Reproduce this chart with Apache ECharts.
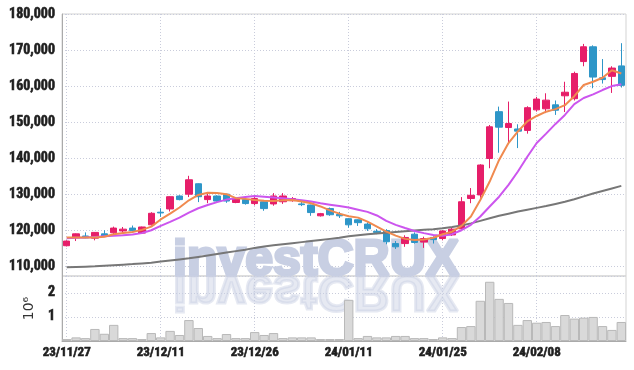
<!DOCTYPE html>
<html>
<head>
<meta charset="utf-8">
<script src="https://cdn.jsdelivr.net/npm/echarts@6/dist/echarts.min.js"></script>
<style>
html, body { margin: 0; padding: 0; background: #fff; }
#chart { width: 634px; height: 370px; }
</style>
</head>
<body>
<div id="chart"></div>
<script>
// trading days
var dates = [
	"23/11/27", "23/11/28", "23/11/29", "23/11/30", "23/12/01", "23/12/04", "23/12/05", "23/12/06", "23/12/07", "23/12/08",
	"23/12/11", "23/12/12", "23/12/13", "23/12/14", "23/12/15", "23/12/18", "23/12/19", "23/12/20", "23/12/21", "23/12/22",
	"23/12/26", "23/12/27", "23/12/28", "24/01/02", "24/01/03", "24/01/04", "24/01/05", "24/01/08", "24/01/09", "24/01/10",
	"24/01/11", "24/01/12", "24/01/15", "24/01/16", "24/01/17", "24/01/18", "24/01/19", "24/01/22", "24/01/23", "24/01/24",
	"24/01/25", "24/01/26", "24/01/29", "24/01/30", "24/01/31", "24/02/01", "24/02/02", "24/02/05", "24/02/06", "24/02/07",
	"24/02/08", "24/02/13", "24/02/14", "24/02/15", "24/02/16", "24/02/19", "24/02/20", "24/02/21", "24/02/22", "24/02/23"
]
var opens = [
	115700, 117900, 118400, 117800, 119000, 119300, 119800, 120600, 119200, 121500,
	125000, 125900, 129500, 130000, 132900, 128500, 129500, 130000, 127700, 128500,
	127400, 127900, 127300, 127900, 128200, 127300, 127000, 124000, 126000, 124400,
	123200, 122900, 121700, 119700, 119900, 116300, 116300, 118900, 116700, 118000,
	117700, 118700, 120400, 128800, 129800, 139900, 152900, 148500, 148100, 147700,
	153400, 153700, 154800, 157300, 156500, 166800, 170900, 162300, 162700, 165600
]
var closes = [
	117000, 119000, 117900, 119400, 118400, 120600, 120300, 119900, 120900, 124700,
	124800, 129300, 128500, 134000, 129300, 129500, 128100, 128100, 128800, 127400,
	128800, 126000, 129500, 129500, 128800, 127100, 124900, 124600, 124300, 124000,
	121500, 122100, 120400, 119400, 116800, 115400, 118000, 116600, 117700, 117400,
	119800, 120300, 127900, 129700, 138100, 148700, 148600, 149600, 147500, 154000,
	156400, 156100, 153300, 158300, 163500, 170900, 162500, 161800, 165000, 160200
]
var lows = [
	115500, 117000, 117800, 117200, 118200, 118600, 118900, 119700, 119000, 121300,
	123700, 125200, 128300, 129200, 127800, 127500, 127900, 127600, 127500, 127100,
	126900, 125400, 126800, 127300, 127900, 126700, 124000, 123800, 124000, 123400,
	120700, 121200, 119800, 118900, 116100, 114800, 115400, 116300, 115100, 116300,
	117200, 118400, 120200, 127500, 129000, 137200, 141500, 144200, 142800, 146800,
	152900, 152500, 152000, 152800, 156000, 165500, 159400, 160700, 158100, 159600
]
var highs = [
	117200, 119100, 119400, 119500, 120000, 121000, 120900, 121300, 121000, 125000,
	126100, 129400, 129700, 135100, 133000, 130300, 129700, 130100, 129000, 128600,
	129300, 128000, 130300, 130300, 129200, 127900, 127100, 124800, 126300, 125100,
	123300, 123000, 122200, 120300, 120300, 117000, 118600, 119400, 118200, 118300,
	120000, 120800, 129200, 131700, 138300, 149200, 154300, 155700, 149400, 154400,
	157000, 158000, 156000, 161200, 164000, 171700, 171300, 167500, 165500, 171900
]
// moving averages
var ma5 = [
	117950, 118000, 117950, 118000, 118200, 118900, 119200, 119500, 120100, 121000,
	123000, 124600, 126300, 128300, 129800, 130400, 130300, 130000, 128900, 128700,
	128400, 128200, 128100, 128300, 128400, 128000, 127500, 126600, 125500, 124600,
	123900, 123500, 122400, 121000, 119600, 118500, 117600, 117300, 117400, 117900,
	118900, 119600, 121200, 123800, 128400, 133500, 139500, 144200, 147400, 150200,
	151700, 152900, 153600, 154700, 157200, 160300, 161200, 162300, 164400, 163500
]
var ma20 = [
	117800, 117900, 118000, 118150, 118300, 118450, 118600, 118800, 119200, 120000,
	121200, 122300, 123500, 124900, 126100, 127000, 127800, 128500, 128900, 129200,
	129500, 129300, 129100, 128900, 128600, 128300, 128000, 127500, 127100, 126700,
	126300, 125700, 125100, 124100, 122600, 121500, 120600, 119800, 119200, 118700,
	118500, 118900, 120000, 121500, 123800, 126600, 129300, 132600, 136300, 140400,
	144200, 146800, 149500, 152000, 155000, 156700, 157700, 158900, 160000, 160500
]
var ma120 = [
	109700, 109800, 109900, 110000, 110150, 110300, 110450, 110600, 110800, 111000,
	111300, 111600, 111900, 112200, 112600, 113000, 113400, 113800, 114200, 114600,
	115100, 115500, 115800, 116100, 116400, 116700, 117000, 117300, 117600, 117900,
	118300, 118600, 118900, 119100, 119300, 119500, 119700, 119900, 120100, 120300,
	120550, 120900, 121300, 121900, 122600, 123300, 124000, 124600, 125200, 125700,
	126200, 126700, 127300, 127900, 128600, 129400, 130200, 130900, 131600, 132300
]
// volume, millions of shares
var volumes = [
	0.08, 0.15, 0.12, 0.50, 0.30, 0.67, 0.12, 0.12, 0.08, 0.33,
	0.15, 0.42, 0.25, 0.87, 0.54, 0.21, 0.12, 0.29, 0.12, 0.12,
	0.37, 0.25, 0.33, 0.12, 0.15, 0.15, 0.15, 0.08, 0.08, 0.08,
	1.71, 0.12, 0.21, 0.15, 0.15, 0.21, 0.21, 0.12, 0.12, 0.08,
	0.15, 0.12, 0.58, 0.62, 1.67, 2.46, 1.75, 1.58, 0.67, 0.87,
	0.76, 0.79, 0.62, 1.08, 0.93, 0.97, 1.00, 0.62, 0.46, 0.79
]

var candles = []
for (var i = 0; i < dates.length; i++) {
	candles.push([opens[i], closes[i], lows[i], highs[i]])
}

var labelFont = '"Roboto Condensed", "Liberation Sans Narrow", sans-serif'
var gridLine = { show: true, lineStyle: { color: "#c9ccdb", type: [1, 2], width: 1 } }
// heavier tick labels
var labelStyle = {
	color: "#1e1e1e", fontFamily: labelFont, fontWeight: "bold", fontSize: 14,
	textBorderColor: "#1e1e1e", textBorderWidth: 0.6
}
var markStyle = {
	text: "investCRUX", font: 'bold 50px "Liberation Sans"', fill: "#c8cfe3",
	stroke: "#c8cfe3", lineWidth: 3, lineJoin: "round", verticalAlign: "bottom"
}

var chart = echarts.init(document.getElementById("chart"))
chart.setOption({
	animation: false,
	graphic: [
		{ type: "text", x: 173, y: 286, z: 1, style: markStyle },
		{ type: "text", x: 173, y: 265, z: 1, scaleY: -1, style: Object.assign({ opacity: 0.45 }, markStyle) }
	],
	grid: [
		{ left: 62, right: 8, top: 14, height: 262, show: true, borderColor: "#d3d3d3", borderWidth: 1 },
		{ left: 62, right: 8, top: 276, height: 65, show: true, borderColor: "#d3d3d3", borderWidth: 1 }
	],
	xAxis: [
		{
			type: "category", gridIndex: 0, data: dates,
			axisLine: { show: false }, axisTick: { show: false }, axisLabel: { show: false },
			splitLine: Object.assign({ interval: 9, alignWithLabel: true }, gridLine)
		},
		{
			type: "category", gridIndex: 1, data: dates,
			axisLine: { lineStyle: { color: "#aaaaaa" } }, axisTick: { show: false },
			axisLabel: Object.assign({ interval: 9, margin: 5 }, labelStyle, { fontSize: 13 }),
			splitLine: Object.assign({ interval: 9, alignWithLabel: true }, gridLine)
		}
	],
	yAxis: [
		{
			type: "value", gridIndex: 0, min: 107300, max: 180000, splitNumber: 7,
			axisLine: { show: true, lineStyle: { color: "#aaaaaa" } }, axisTick: { show: false },
			axisLabel: Object.assign({
				showMinLabel: false, margin: 7,
				formatter: function(v) { return v.toLocaleString("en-US") }
			}, labelStyle),
			splitLine: gridLine
		},
		{
			type: "value", gridIndex: 1, min: 0, max: 2.7, splitNumber: 2,
			name: "10\u2076", nameLocation: "middle", nameRotate: 90, nameGap: 21,
			nameTextStyle: { color: "#333", fontSize: 14, fontFamily: "DejaVu Sans" },
			axisLine: { show: true, lineStyle: { color: "#aaaaaa" } }, axisTick: { show: false },
			axisLabel: Object.assign({ showMinLabel: false, showMaxLabel: false, margin: 7 }, labelStyle),
			splitLine: gridLine
		}
	],
	series: [
		{
			type: "candlestick", xAxisIndex: 0, yAxisIndex: 0, data: candles, barWidth: 7,
			itemStyle: { color: "#e61e69", color0: "#2e96c8", borderColor: "#e61e69", borderColor0: "#2e96c8", borderWidth: 1 }
		},
		{ type: "line", xAxisIndex: 0, yAxisIndex: 0, data: ma120, symbol: "none", lineStyle: { color: "#777777", width: 2 } },
		{ type: "line", xAxisIndex: 0, yAxisIndex: 0, data: ma20, symbol: "none", lineStyle: { color: "#cc55ee", width: 2 } },
		{ type: "line", xAxisIndex: 0, yAxisIndex: 0, data: ma5, symbol: "none", lineStyle: { color: "#f08a4f", width: 2 } },
		{
			type: "bar", xAxisIndex: 1, yAxisIndex: 1, data: volumes, barCategoryGap: "0%",
			itemStyle: { color: "#d9d9d9", borderColor: "#b9b9b9", borderWidth: 1 }
		}
	]
})
</script>
</body>
</html>
